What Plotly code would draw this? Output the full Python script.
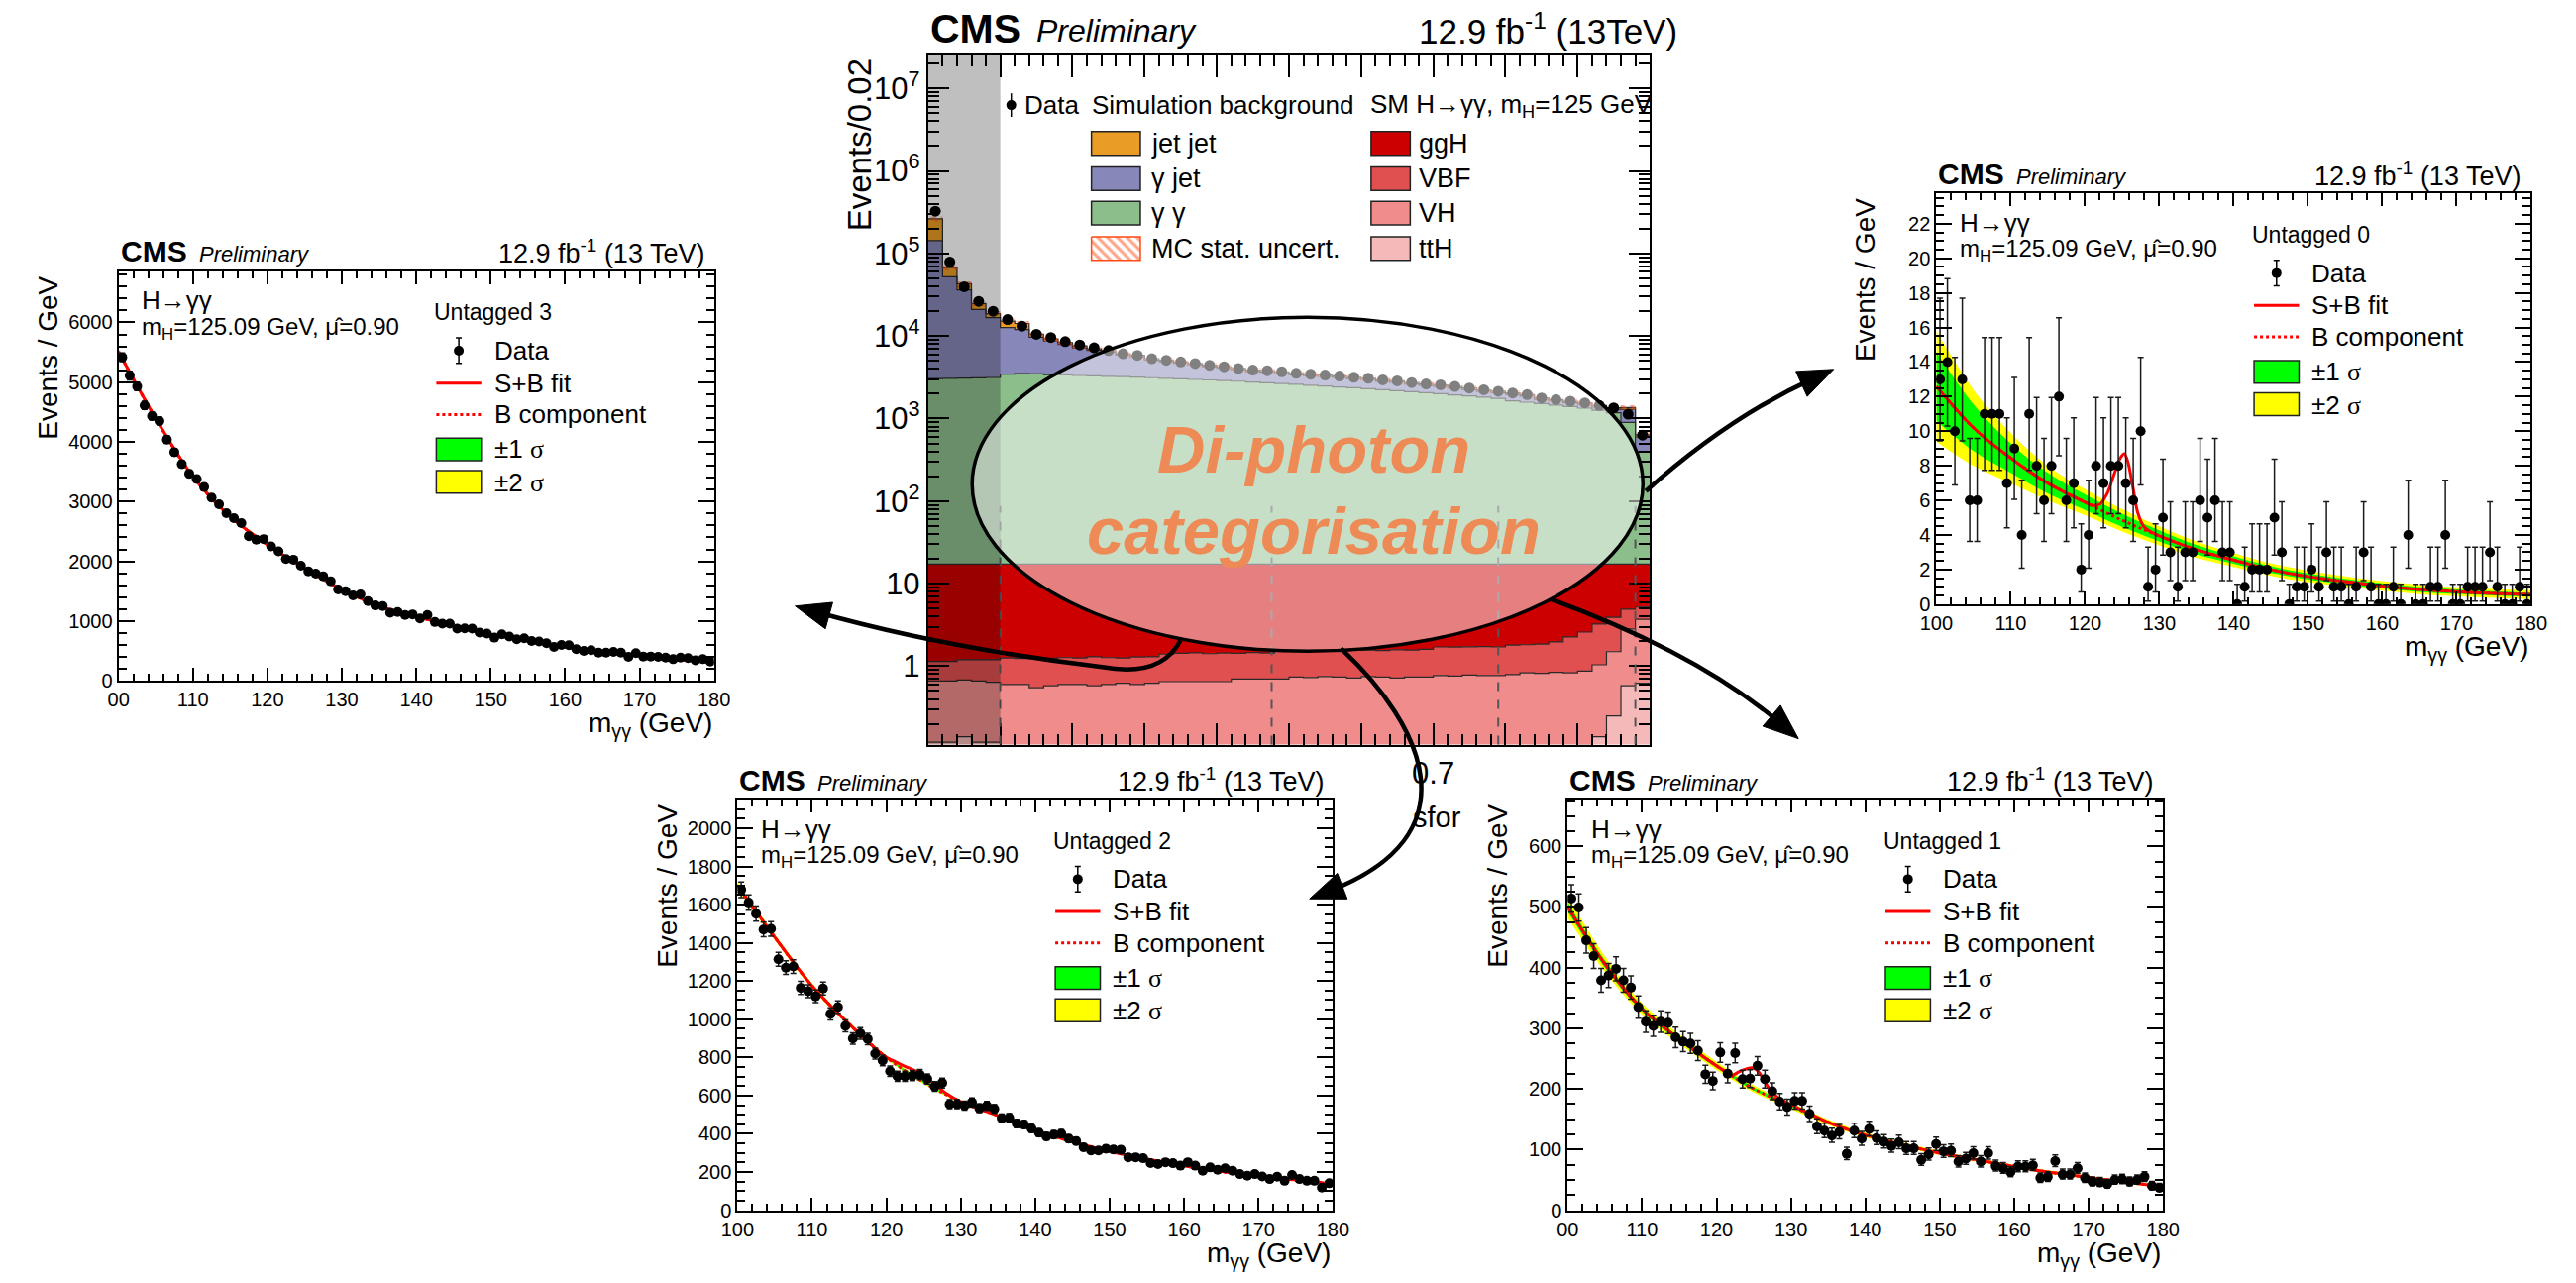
import math
import numpy as np
import plotly.graph_objects as go

W, H = 2600, 1295
FONT = "Liberation Sans, Arial, Helvetica, sans-serif"
SERIF = "Liberation Serif, Times New Roman, serif"

# ---------------- centre panel: transformed diphoton MVA, 50 bins of 0.02 ----------------
mva_edges = np.round(np.linspace(0.0, 1.0, 51), 2)
mva_data = [325000, 78900, 39600, 26300, 19950, 15850, 13200, 10500, 9600, 8560,
            7800, 7200, 6680, 6110, 5830, 5320, 5080, 4860, 4640, 4430,
            4240, 4050, 3860, 3800, 3690, 3530, 3450, 3370, 3280, 3160,
            3080, 2940, 2860, 2730, 2630, 2560, 2450, 2340, 2230, 2140,
            2040, 1950, 1780, 1700, 1620, 1550, 1440, 1350, 1130, 630]
bkg_jetjet = [120000, 15000, 6700, 3700, 2000, 2500, 2200, 800, 500, 400,
              400, 300, 270, 245, 233, 213, 203, 194, 186, 177,
              170, 162, 154, 152, 148, 141, 138, 135, 131, 126,
              123, 118, 114, 109, 105, 102, 98, 94, 89, 86,
              82, 78, 71, 68, 65, 62, 58, 54, 60, 40]
bkg_gjet = [140000, 49100, 33200, 17900, 13550, 9250, 8500, 6220, 5280, 4520,
            3870, 3400, 3160, 2650, 2420, 1980, 1800, 1640, 1480, 1320,
            1180, 1050, 930, 930, 885, 790, 775, 760, 730, 680,
            660, 585, 570, 500, 470, 460, 415, 370, 320, 300,
            320, 295, 190, 175, 160, 150, 125, 120, 400, 200]
bkg_gg = [3030, 3060, 3080, 3100, 3130, 3430, 3480, 3460, 3400, 3360,
          3310, 3280, 3230, 3200, 3160, 3110, 3060, 3010, 2960, 2920,
          2870, 2820, 2760, 2700, 2640, 2580, 2520, 2460, 2400, 2340,
          2280, 2220, 2160, 2100, 2040, 1980, 1920, 1860, 1800, 1740,
          1620, 1560, 1500, 1440, 1380, 1320, 1240, 1160, 880, 380]
sig_ggh = [16.16, 16.16, 16.10, 16.10, 16.10, 16.04, 16.06, 16.02, 16.05, 16.03,
           16.04, 16.00, 16.03, 16.04, 16.01, 16.00, 15.90, 15.87, 15.85, 15.88,
           15.86, 15.87, 15.84, 15.86, 15.75, 15.73, 15.74, 15.76, 15.72, 15.74,
           15.73, 15.75, 15.72, 15.73, 15.70, 15.59, 15.60, 15.58, 15.57, 15.59,
           15.50, 15.48, 15.45, 15.33, 15.04, 14.71, 14.06, 13.40, 12.40, 12.10]
sig_vbf = [0.48, 0.48, 0.52, 0.54, 0.56, 0.66, 0.64, 0.73, 0.67, 0.67,
           0.66, 0.72, 0.67, 0.64, 0.69, 0.68, 0.75, 0.78, 0.80, 0.77,
           0.79, 0.73, 0.76, 0.74, 0.85, 0.83, 0.83, 0.79, 0.84, 0.84,
           0.82, 0.81, 0.86, 0.83, 0.86, 0.94, 0.94, 0.94, 0.96, 0.94,
           1.01, 0.99, 1.03, 1.13, 1.43, 1.72, 2.20, 2.40, 2.07, 1.50]
sig_vh = [0.54, 0.54, 0.54, 0.54, 0.52, 0.52, 0.52, 0.47, 0.50, 0.52,
          0.52, 0.50, 0.52, 0.54, 0.52, 0.54, 0.57, 0.57, 0.57, 0.57,
          0.57, 0.62, 0.62, 0.62, 0.62, 0.66, 0.65, 0.67, 0.66, 0.64,
          0.67, 0.66, 0.64, 0.66, 0.66, 0.69, 0.68, 0.70, 0.69, 0.69,
          0.71, 0.75, 0.74, 0.75, 0.73, 0.76, 0.90, 1.25, 2.25, 3.08]
sig_tth = [0.12, 0.12, 0.14, 0.12, 0.12, 0.08, 0.08, 0.08, 0.08, 0.08,
           0.08, 0.08, 0.08, 0.08, 0.08, 0.08, 0.08, 0.08, 0.08, 0.08,
           0.08, 0.08, 0.08, 0.08, 0.08, 0.08, 0.08, 0.08, 0.08, 0.08,
           0.08, 0.08, 0.08, 0.08, 0.08, 0.08, 0.08, 0.08, 0.08, 0.08,
           0.08, 0.08, 0.08, 0.09, 0.10, 0.11, 0.14, 0.25, 0.58, 0.62]
cat_boundaries = [0.1, 0.476, 0.79, 0.98]
cat_line_top = 87.0
mc_stat_frac = 0.07
mva_major_step = 0.1
mva_minor_step = 0.02
mva_label_vals = [0.7]
mva_label_text = ["0.7"]
decade_vals = [1, 10, 100, 1e3, 1e4, 1e5, 1e6, 1e7]
decade_text = ["1", "10", "10<sup>2</sup>", "10<sup>3</sup>", "10<sup>4</sup>",
               "10<sup>5</sup>", "10<sup>6</sup>", "10<sup>7</sup>"]

# ---------------- m_gammagamma fits in the untagged categories ----------------
mgg_centres = np.arange(100.5, 180.0, 1.0)
mgg_ticks = [100, 110, 120, 130, 140, 150, 160, 170, 180]
mgg_ticktext = ["100", "110", "120", "130", "140", "150", "160", "170", "180"]
mgg_ticktext_cut = ["00", "110", "120", "130", "140", "150", "160", "170", "180"]
fit_x = [100, 105, 110, 115, 120, 125, 130, 135, 140, 145, 150, 155, 160, 165, 170, 175, 180]

u3_data = [5417, 5111, 4928, 4611, 4433, 4350, 4039, 3828, 3628, 3467,
           3378, 3244, 3067, 2956, 2806, 2722, 2639, 2422, 2361, 2372,
           2250, 2167, 2039, 2028, 1928, 1833, 1794, 1750, 1667, 1528,
           1500, 1428, 1444, 1333, 1261, 1250, 1139, 1150, 1100, 1111,
           1044, 1100, 983, 956, 956, 872, 878, 872, 806, 789,
           722, 778, 739, 694, 711, 667, 656, 628, 567, 600,
           594, 528, 500, 511, 472, 472, 483, 472, 400, 461,
           406, 406, 400, 389, 361, 389, 378, 344, 361, 322]
u3_bkg = [5510, 4390, 3420, 2750, 2280, 1880, 1530, 1250, 1075, 915, 778, 667, 567, 483, 417, 361, 306]
u3_sb_x = [100, 105, 110, 115, 120, 125, 130, 135, 140, 145, 150, 155, 160, 165, 170, 175, 180]
u3_sb = [5510, 4390, 3420, 2750, 2280, 1880, 1530, 1250, 1075, 915, 778, 667, 567, 483, 417, 361, 306]
u3_s1 = [25, 20, 17, 15, 13, 12, 11, 10, 9, 8, 8, 7, 7, 6, 6, 6, 6]
u3_s2 = [50, 40, 34, 30, 26, 24, 22, 20, 18, 16, 16, 14, 14, 12, 12, 12, 12]

u0_data = [13, 14, 10, 13, 6, 6, 11, 11, 11, 7,
           9, 4, 11, 8, 6, 8, 12, 6, 7, 2,
           4, 8, 7, 8, 8, 7, 6, 10, 1, 2,
           5, 3, 1, 3, 3, 6, 5, 6, 3, 3,
           0, 1, 2, 2, 2, 5, 3, 0, 1, 1,
           2, 1, 3, 1, 1, 0, 1, 3, 1, 0,
           0, 1, 0, 4, 0, 0, 1, 1, 4, 0,
           0, 1, 1, 1, 3, 1, 0, 0, 1, 0]
u0_bkg = [12.6, 10.2, 8.45, 7.0, 5.9, 4.85, 3.95, 3.15, 2.55, 2.0, 1.6, 1.3, 1.05, 0.85, 0.72, 0.62, 0.55]
u0_sb_x = [100, 105, 110, 115, 120, 121, 122, 123, 124, 124.7, 125.3, 125.8, 126.4, 127.1, 127.9, 128.8,
           130, 135, 140, 145, 150, 155, 160, 165, 170, 175, 180]
u0_sb = [12.6, 10.2, 8.45, 7.0, 5.9, 5.72, 5.78, 6.4, 7.6, 8.4, 8.7, 8.2, 6.9, 5.3, 4.5, 4.2,
         3.95, 3.15, 2.55, 2.0, 1.6, 1.3, 1.05, 0.85, 0.72, 0.62, 0.55]
u0_s1 = [2.0, 1.35, 0.85, 0.6, 0.45, 0.38, 0.32, 0.27, 0.22, 0.2, 0.18, 0.16, 0.15, 0.14, 0.13, 0.12, 0.12]
u0_s2 = [3.2, 2.2, 1.45, 1.0, 0.75, 0.65, 0.55, 0.47, 0.4, 0.36, 0.33, 0.3, 0.28, 0.27, 0.26, 0.26, 0.26]

u2_data = [1678, 1611, 1553, 1470, 1473, 1314, 1270, 1276, 1164, 1147,
           1120, 1161, 1028, 1064, 965, 899, 926, 896, 820, 784,
           728, 701, 701, 705, 710, 687, 648, 666, 555, 555,
           548, 564, 534, 546, 530, 481, 484, 454, 449, 428,
           406, 387, 396, 401, 375, 362, 330, 313, 313, 322,
           318, 316, 277, 277, 272, 247, 242, 251, 246, 233,
           251, 233, 207, 224, 212, 219, 207, 189, 180, 189,
           177, 163, 175, 154, 184, 163, 154, 154, 118, 141]
u2_bkg = [1700, 1430, 1175, 975, 800, 670, 568, 495, 420, 358, 308, 268, 232, 202, 180, 158, 138]
u2_sb_x = [100, 105, 110, 115, 120, 121, 122, 123, 124, 125, 126, 127, 128, 130,
           135, 140, 145, 150, 155, 160, 165, 170, 175, 180]
u2_sb = [1700, 1430, 1175, 975, 800, 782, 762, 745, 728, 703, 675, 645, 612, 568,
         495, 420, 358, 308, 268, 232, 202, 180, 158, 138]
u2_s1 = [10, 8, 7, 6, 5, 5, 4, 4, 4, 3, 3, 3, 3, 3, 3, 3, 3]
u2_s2 = [20, 16, 14, 12, 10, 10, 8, 8, 8, 6, 6, 6, 6, 6, 6, 6, 6]

u1_data = [514, 499, 445, 419, 379, 387, 398, 379, 367, 335,
           311, 304, 311, 309, 285, 278, 275, 263, 224, 213,
           260, 225, 259, 216, 217, 238, 216, 196, 179, 170,
           180, 180, 159, 138, 131, 123, 129, 93, 131, 118,
           134, 119, 113, 106, 112, 102, 102, 83, 92, 109,
           97, 98, 80, 85, 94, 80, 94, 73, 69, 63,
           72, 72, 74, 53, 55, 81, 59, 59, 69, 53,
           47, 46, 43, 50, 51, 47, 50, 55, 40, 37]
u1_bkg = [500, 406, 332, 282, 238, 200, 172, 145, 124, 108, 94, 83, 72, 62, 54, 46, 39]
u1_sb_x = [100, 105, 110, 115, 120, 121, 122, 123, 124, 124.8, 125.5, 126, 127, 128, 129, 130,
           135, 140, 145, 150, 155, 160, 165, 170, 175, 180]
u1_sb = [500, 406, 332, 282, 238, 230, 222, 228, 233, 235, 230, 222, 202, 188, 180, 174,
         145, 124, 108, 94, 83, 72, 62, 54, 46, 39]
u1_s1 = [8, 6, 4.5, 3.8, 3.2, 2.8, 2.5, 2.2, 2.0, 1.8, 1.6, 1.5, 1.4, 1.3, 1.3, 1.3, 1.3]
u1_s2 = [18, 13, 9.5, 8, 6.8, 5.8, 5.2, 4.6, 4.2, 3.8, 3.4, 3.2, 3.0, 2.8, 2.8, 2.8, 2.8]

# plot frames in pixels: (left, right, top, bottom)
FRAME_C = (932, 1670, 56, 758)
PANELS = [
    dict(n=2, label="Untagged 3", frame=(104, 713, 276, 693), ymax=6860, dtick=1000, minor=200,
         data=u3_data, bkg=u3_bkg, sbx=u3_sb_x, sb=u3_sb, s1=u3_s1, s2=u3_s2, xt=mgg_ticktext_cut),
    dict(n=3, label="Untagged 0", frame=(1963, 2571, 197, 615), ymax=23.75, dtick=2, minor=0.5,
         data=u0_data, bkg=u0_bkg, sbx=u0_sb_x, sb=u0_sb, s1=u0_s1, s2=u0_s2, xt=mgg_ticktext),
    dict(n=4, label="Untagged 2", frame=(737, 1346, 814, 1232), ymax=2150, dtick=200, minor=50,
         data=u2_data, bkg=u2_bkg, sbx=u2_sb_x, sb=u2_sb, s1=u2_s1, s2=u2_s2, xt=mgg_ticktext),
    dict(n=5, label="Untagged 1", frame=(1586, 2195, 814, 1232), ymax=677, dtick=100, minor=25,
         data=u1_data, bkg=u1_bkg, sbx=u1_sb_x, sb=u1_sb, s1=u1_s1, s2=u1_s2, xt=mgg_ticktext_cut),
]


def domains(frame):
    x0, x1, y0, y1 = frame
    return [x0 / W, x1 / W], [1 - y1 / H, 1 - y0 / H]


def poisson_interval(n):
    """68.3% central Poisson interval for an observed count."""
    a = 0.158655
    if n == 0:
        return 0.0, 1.148
    if n > 150:
        return n - math.sqrt(n), n + math.sqrt(n + 1)

    def cdf(k, mu):
        return sum(math.exp(-mu + i * math.log(mu) - math.lgamma(i + 1)) for i in range(k + 1))

    lo, hi = 1e-9, float(n)
    for _ in range(60):
        mid = 0.5 * (lo + hi)
        if 1 - cdf(n - 1, mid) < a:
            lo = mid
        else:
            hi = mid
    lower = 0.5 * (lo + hi)
    lo, hi = float(n), n + 10 * math.sqrt(n) + 10
    for _ in range(60):
        mid = 0.5 * (lo + hi)
        if cdf(n, mid) > a:
            lo = mid
        else:
            hi = mid
    upper = 0.5 * (lo + hi)
    return lower, upper


fig = go.Figure()

# ---------------- centre panel traces ----------------
xe = list(mva_edges)
fig.add_trace(go.Scatter(x=xe, y=[1e-3] * len(xe), mode="lines", line=dict(width=0, shape="hv"),
                         hoverinfo="skip", xaxis="x", yaxis="y"))
stack = [(sig_tth, "#F5B9B9"), (sig_vh, "#F08C8C"), (sig_vbf, "#E15050"), (sig_ggh, "#CC0000"),
         (bkg_gg, "#8CBE8C"), (bkg_gjet, "#8787B9"), (bkg_jetjet, "#EA9D26")]
cum = np.zeros(len(mva_data))
for vals, col in stack:
    cum = cum + np.array(vals, dtype=float)
    fig.add_trace(go.Scatter(x=xe, y=list(cum) + [cum[-1]], mode="lines",
                             line=dict(shape="hv", color="#2a2a2a", width=1.2),
                             fill="tonexty", fillcolor=col, hoverinfo="skip", xaxis="x", yaxis="y"))
mc_lo = cum * (1 - mc_stat_frac)
mc_hi = cum * (1 + mc_stat_frac)
fig.add_trace(go.Scatter(x=xe, y=list(mc_lo) + [mc_lo[-1]], mode="lines",
                         line=dict(shape="hv", width=0), hoverinfo="skip", xaxis="x", yaxis="y"))
fig.add_trace(go.Scatter(x=xe, y=list(mc_hi) + [mc_hi[-1]], mode="lines",
                         line=dict(shape="hv", width=0), fill="tonexty", fillcolor="rgba(0,0,0,0)",
                         fillpattern=dict(shape="\\", fgcolor="#FF4A14", bgcolor="rgba(0,0,0,0)",
                                          size=7, solidity=0.45),
                         hoverinfo="skip", xaxis="x", yaxis="y"))
mva_centres = (mva_edges[:-1] + mva_edges[1:]) / 2
fig.add_trace(go.Scatter(x=mva_centres, y=mva_data, mode="markers",
                         marker=dict(color="black", size=11),
                         error_y=dict(type="data", array=[math.sqrt(v) for v in mva_data],
                                      color="black", thickness=1.5, width=0),
                         hoverinfo="skip", xaxis="x", yaxis="y"))
# carrier for the unlabelled major/minor ticks of the MVA axis
fig.add_trace(go.Scatter(x=[0, 1], y=[1, 1], mode="markers", marker=dict(opacity=0),
                         hoverinfo="skip", xaxis="x7", yaxis="y"))

# ---------------- fit panels ----------------
for p in PANELS:
    ax, ay = "x%d" % p["n"], "y%d" % p["n"]
    b = np.array(p["bkg"], dtype=float)
    for s, col in ((p["s2"], "#FFFF00"), (p["s1"], "#00FF00")):
        s = np.array(s, dtype=float)
        fig.add_trace(go.Scatter(x=fit_x, y=b - s, mode="lines", line=dict(width=0, shape="spline"),
                                 hoverinfo="skip", xaxis=ax, yaxis=ay))
        fig.add_trace(go.Scatter(x=fit_x, y=b + s, mode="lines", line=dict(width=0, shape="spline"),
                                 fill="tonexty", fillcolor=col, hoverinfo="skip", xaxis=ax, yaxis=ay))
    fig.add_trace(go.Scatter(x=fit_x, y=b, mode="lines",
                             line=dict(color="#FF0000", width=3, dash="dot", shape="spline"),
                             hoverinfo="skip", xaxis=ax, yaxis=ay))
    fig.add_trace(go.Scatter(x=p["sbx"], y=p["sb"], mode="lines",
                             line=dict(color="#FF0000", width=3, shape="spline", smoothing=0.8),
                             hoverinfo="skip", xaxis=ax, yaxis=ay))
    ints = [poisson_interval(v) for v in p["data"]]
    fig.add_trace(go.Scatter(x=mgg_centres, y=p["data"], mode="markers",
                             marker=dict(color="black", size=10),
                             error_y=dict(type="data", symmetric=False,
                                          array=[hi - v for v, (lo, hi) in zip(p["data"], ints)],
                                          arrayminus=[v - lo for v, (lo, hi) in zip(p["data"], ints)],
                                          color="#1a1a1a", thickness=1.5, width=3),
                             hoverinfo="skip", xaxis=ax, yaxis=ay))

# ---------------- legend glyphs (pixel overlay) ----------------
OV = dict(xaxis="x6", yaxis="y6", hoverinfo="skip")
shapes = []
annotations = []


def txt(x, y, s, size, xanchor="left", yanchor="middle", **kw):
    d = dict(x=x, y=y, xref="x6", yref="y6", text=s, showarrow=False, xanchor=xanchor,
             yanchor=yanchor, font=dict(family=FONT, size=size, color=kw.pop("color", "black")))
    d.update(kw)
    annotations.append(d)


def box(x0, x1, y0, y1, fill, line="#222222"):
    shapes.append(dict(type="rect", xref="x6", yref="y6", x0=x0, x1=x1, y0=y0, y1=y1,
                       fillcolor=fill, line=dict(color=line, width=1.5), layer="above"))


sigma = "<span style='font-family:%s'>\u03c3</span>" % SERIF
for p in PANELS:
    x0, x1, y0, y1 = p["frame"]
    fig.add_trace(go.Scatter(x=[x0 + 348], y=[y0 + 81], mode="markers",
                             marker=dict(color="black", size=10),
                             error_y=dict(type="data", array=[13], color="black", thickness=1.5, width=3),
                             **OV))
    fig.add_trace(go.Scatter(x=[x0 + 325, x0 + 371], y=[y0 + 114] * 2, mode="lines",
                             line=dict(color="#FF0000", width=3), **OV))
    fig.add_trace(go.Scatter(x=[x0 + 325, x0 + 371], y=[y0 + 146] * 2, mode="lines",
                             line=dict(color="#FF0000", width=3, dash="dot"), **OV))
    box(x0 + 325, x0 + 371, y0 + 170, y0 + 193, "#00FF00")
    box(x0 + 325, x0 + 371, y0 + 203, y0 + 226, "#FFFF00")
    for dy, s in ((81, "Data"), (114, "S+B fit"), (146, "B component"),
                  (181, "\u00b11 " + sigma), (215, "\u00b12 " + sigma)):
        txt(x0 + 382, y0 + dy, s, 26)
    txt(x0 + 321, y0 + 42, p["label"], 23)
    txt(x0 + 22, y0 + 30, "H\u2192\u03b3\u03b3", 26)
    txt(x0 + 22, y0 + 58, "m<sub>H</sub>=125.09 GeV, \u03bc\u0302=0.90", 24)
    # header
    txt(x0, y0 - 20, "<b>CMS</b>", 30)
    txt(x0 + 80, y0 - 17, "<i>Preliminary</i>", 22)
    txt(x1 - 8, y0 - 20, "12.9 fb<sup>-1</sup> (13 TeV)", 27, xanchor="right")
    # axis titles
    txt(x0 - 72, y0 + 3, "Events / GeV", 28, xanchor="center", yanchor="top", textangle=-90)
    txt(x1, y1 + 45, "m<sub>\u03b3\u03b3</sub> (GeV)", 28, xanchor="right")

# centre panel legend
fig.add_trace(go.Scatter(x=[1017], y=[107], mode="markers", marker=dict(color="black", size=10),
                         error_y=dict(type="data", array=[12], color="black", thickness=1.5, width=0),
                         **OV))
txt(1028, 107, "Data", 26)
txt(1097, 107, "Simulation background", 26)
txt(1382, 107, "SM H\u2192\u03b3\u03b3, m<sub>H</sub>=125 GeV", 26)
left_col = [("jet jet", "#EA9D26"), ("\u03b3 jet", "#8787B9"), ("\u03b3 \u03b3", "#8CBE8C")]
right_col = [("ggH", "#CC0000"), ("VBF", "#E15050"), ("VH", "#F08C8C"), ("ttH", "#F5B9B9")]
rows = [146, 182, 217, 253]
for (lab, col), yy in zip(left_col, rows):
    box(1099, 1149, yy - 12, yy + 12, col)
    txt(1158, yy, lab, 27)
for (lab, col), yy in zip(right_col, rows):
    box(1385, 1425, yy - 12, yy + 12, col)
    txt(1432, yy, lab, 27)
fig.add_trace(go.Scatter(x=[1099, 1149, 1149, 1099, 1099], y=[241, 241, 265, 265, 241], mode="lines",
                         line=dict(color="#FF4A14", width=1.5), fill="toself", fillcolor="white",
                         fillpattern=dict(shape="\\", fgcolor="#FF4A14", bgcolor="white", size=7,
                                          solidity=0.45), **OV))
txt(1158, 253, "MC stat. uncert.", 27)

# centre header and axis titles
txt(932, 29, "<b>CMS</b>", 41)
txt(1041, 31, "<i>Preliminary</i>", 32)
txt(1700, 29, "12.9 fb<sup>-1</sup> (13TeV)", 35, xanchor="right")
txt(862, 58, "Events/0.02", 33, xanchor="center", yanchor="top", textangle=-90)
txt(1452, 832, "sfor", 29, xanchor="center")

# categorisation overlay text
for yy, s in ((457, "Di-photon"), (540, "categorisation")):
    txt(1326, yy, "<b><i>%s</i></b>" % s, 67, xanchor="center", color="#EE8A55")

# ---------------- overlay shapes ----------------
ylo_log, yhi_log = -0.95, 7.405
top_frac = (math.log10(cat_line_top) - ylo_log) / (yhi_log - ylo_log)
over = []
for xb in cat_boundaries:
    over.append(dict(type="line", xref="x", yref="y domain", x0=xb, x1=xb, y0=0, y1=top_frac,
                     line=dict(color="#555555", width=2, dash="dash"), layer="above"))
over.append(dict(type="rect", xref="x", yref="y domain", x0=0, x1=0.1, y0=0, y1=1,
                 fillcolor="rgba(0,0,0,0.25)", line=dict(width=0), layer="above"))
over.append(dict(type="circle", xref="x6", yref="y6", x0=977, x1=1663, y0=323, y1=663,
                 fillcolor="rgba(255,255,255,0.5)", line=dict(color="black", width=3.5), layer="above"))


def arrow(segments, ctrl, end, L=36, hw=14):
    ex, ey = end
    dx, dy = ex - ctrl[0], ey - ctrl[1]
    n = math.hypot(dx, dy)
    dx, dy = dx / n, dy / n
    bx, by = ex - dx * L, ey - dy * L
    stop = (ex - dx * L * 0.6, ey - dy * L * 0.6)
    path = segments + " %.1f,%.1f" % stop
    over.append(dict(type="path", xref="x6", yref="y6", path=path,
                     line=dict(color="black", width=4.5), layer="above"))
    head = "M %.1f,%.1f L %.1f,%.1f L %.1f,%.1f Z" % (ex, ey, bx - dy * hw, by + dx * hw,
                                                      bx + dy * hw, by - dx * hw)
    over.append(dict(type="path", xref="x6", yref="y6", path=head, fillcolor="black",
                     line=dict(color="black", width=1), layer="above"))


arrow("M 1666,500 Q 1750,425", (1750, 425), (1858, 376))
arrow("M 1569,610 Q 1720,665", (1720, 665), (1822, 752))
arrow("M 1354,660 C 1440,740 1490,850", (1490, 850), (1322, 915))
arrow("M 1190,652 Q 1170,690 1110,679 Q 950,660", (950, 660), (796, 617))

# ---------------- axes ----------------
def frame_axis(**kw):
    d = dict(showline=True, linecolor="black", linewidth=2, mirror="ticks", ticks="inside",
             tickcolor="black", tickwidth=2, showgrid=False, zeroline=False, fixedrange=True,
             tickfont=dict(family=FONT, size=20, color="black"))
    d.update(kw)
    return d


layout_axes = {}
dx, dy = domains(FRAME_C)
minor_log = [k * 10 ** d for d in range(-1, 8) for k in range(2, 10)]
layout_axes["xaxis"] = frame_axis(domain=dx, anchor="y", range=[0, 1], ticklen=22,
                                  tickmode="array", tickvals=mva_label_vals, ticktext=mva_label_text,
                                  tickfont=dict(family=FONT, size=31, color="black"))
layout_axes["xaxis7"] = frame_axis(domain=dx, anchor="y", overlaying="x", range=[0, 1], ticklen=22,
                                   tickmode="linear", tick0=0, dtick=mva_major_step, showticklabels=False,
                                   minor=dict(ticks="inside", ticklen=11, tickwidth=1.5, tickcolor="black",
                                              tickmode="linear", tick0=0, dtick=mva_minor_step,
                                              showgrid=False))
layout_axes["yaxis"] = frame_axis(domain=dy, anchor="x", type="log", range=[ylo_log, yhi_log], ticklen=21,
                                  tickmode="array", tickvals=decade_vals, ticktext=decade_text,
                                  tickfont=dict(family=FONT, size=31, color="black"),
                                  minor=dict(ticks="inside", ticklen=11, tickwidth=1.5, tickcolor="black",
                                             tickmode="array", tickvals=minor_log, showgrid=False))
for p in PANELS:
    dx, dy = domains(p["frame"])
    n = p["n"]
    layout_axes["xaxis%d" % n] = frame_axis(domain=dx, anchor="y%d" % n, range=[100, 180], ticklen=13,
                                            tickmode="array", tickvals=mgg_ticks, ticktext=p["xt"],
                                            minor=dict(ticks="inside", ticklen=7, tickwidth=1.5,
                                                       tickcolor="black", tickmode="linear", tick0=100,
                                                       dtick=2, showgrid=False))
    layout_axes["yaxis%d" % n] = frame_axis(domain=dy, anchor="x%d" % n, range=[0, p["ymax"]], ticklen=16,
                                            tickmode="linear", tick0=0, dtick=p["dtick"],
                                            minor=dict(ticks="inside", ticklen=8, tickwidth=1.5,
                                                       tickcolor="black", tickmode="linear", tick0=0,
                                                       dtick=p["minor"], showgrid=False))
layout_axes["xaxis6"] = dict(domain=[0, 1], anchor="y6", range=[0, W], visible=False, fixedrange=True)
layout_axes["yaxis6"] = dict(domain=[0, 1], anchor="x6", range=[H, 0], visible=False, fixedrange=True)

fig.update_layout(
    width=W, height=H, margin=dict(l=0, r=0, t=0, b=0),
    paper_bgcolor="white", plot_bgcolor="rgba(0,0,0,0)",
    showlegend=False, font=dict(family=FONT, color="black"),
    shapes=shapes + over, annotations=annotations, **layout_axes)

fig.write_html("out.html")
